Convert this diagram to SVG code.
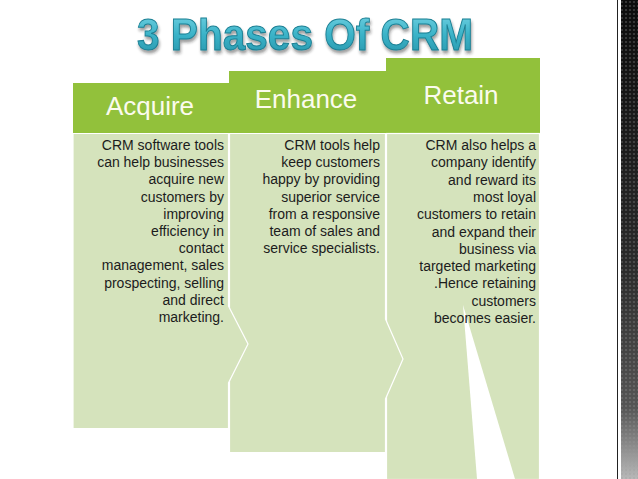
<svg xmlns="http://www.w3.org/2000/svg" width="638" height="479" viewBox="0 0 638 479">
  <defs>
    <linearGradient id="titleGrad" x1="0" y1="0" x2="0" y2="1">
      <stop offset="0" stop-color="#7ad6e6"/>
      <stop offset="0.5" stop-color="#3bb3c8"/>
      <stop offset="1" stop-color="#2592a8"/>
    </linearGradient>
    <linearGradient id="stripGrad" x1="0" y1="0" x2="0" y2="1">
      <stop offset="0" stop-color="#0c0c0c"/>
      <stop offset="0.55" stop-color="#2a2a2a"/>
      <stop offset="0.85" stop-color="#555"/>
      <stop offset="1" stop-color="#b8b8b8"/>
    </linearGradient>
    <pattern id="dots" x="0" y="0" width="4" height="4" patternUnits="userSpaceOnUse">
      <circle cx="2" cy="2" r="1.1" fill="#9a9a9a" fill-opacity="0.35"/>
    </pattern>
    <filter id="shadow" x="-10%" y="-20%" width="120%" height="160%">
      <feDropShadow dx="1" dy="3" stdDeviation="1.6" flood-color="#222" flood-opacity="0.45"/>
    </filter>
    <style>
      .head { fill: #92c13b; }
      .body { fill: #d5e3bc; stroke: #ffffff; stroke-width: 1.2; }
      .htxt { font-family: "Liberation Sans", Arial, sans-serif; font-size: 26px; fill: #fbfbee; text-anchor: middle; }
      .btxt { font-family: "Liberation Sans", Arial, sans-serif; font-size: 14px; fill: #1c1c1c; text-anchor: end; }
      .title { font-family: "Liberation Sans", Arial, sans-serif; font-size: 45px; font-weight: bold; fill: url(#titleGrad); stroke: #1b7f93; stroke-width: 1; }
    </style>
  </defs>

  <rect x="0" y="0" width="638" height="479" fill="#ffffff"/>

  <!-- right decorative strip -->
  <g id="side-strip">
    <line x1="617.5" y1="0" x2="617.5" y2="479" stroke="#222" stroke-width="1"/>
    <rect x="621" y="0" width="17" height="479" fill="url(#stripGrad)"/>
    <rect x="621" y="0" width="17" height="479" fill="url(#dots)"/>
  </g>

  <!-- title -->
  <g id="title">
    <text class="title" x="137" y="50" textLength="336" lengthAdjust="spacingAndGlyphs" filter="url(#shadow)">3 Phases Of CRM</text>
  </g>

  <!-- Retain column -->
  <g id="retain">
    <rect class="head" x="386" y="58" width="154" height="75"/>
    <rect class="body" x="386.5" y="133.5" width="153" height="346"/>
    <polygon points="463,305 477,479 515,479" fill="#ffffff"/>
    <text class="htxt" x="461" y="104">Retain</text>
    <g class="btxt">
      <text x="536" y="150">CRM also helps a</text>
      <text x="536" y="167.3">company identify</text>
      <text x="536" y="184.6">and reward its</text>
      <text x="536" y="201.9">most loyal</text>
      <text x="536" y="219.2">customers to retain</text>
      <text x="536" y="236.5">and expand their</text>
      <text x="536" y="253.8">business via</text>
      <text x="536" y="271.1">targeted marketing</text>
      <text x="536" y="288.4">.Hence retaining</text>
      <text x="536" y="305.7">customers</text>
      <text x="536" y="323">becomes easier.</text>
    </g>
  </g>

  <!-- Enhance column -->
  <g id="enhance">
    <rect class="head" x="229" y="71" width="157" height="62"/>
    <polygon class="body" points="229.5,133.5 385.5,133.5 385.5,319 403,359 385.5,399 385.5,452.5 229.5,452.5"/>
    <text class="htxt" x="306" y="108">Enhance</text>
    <g class="btxt">
      <text x="380" y="150">CRM tools help</text>
      <text x="380" y="167.2">keep customers</text>
      <text x="380" y="184.4">happy by providing</text>
      <text x="380" y="201.6">superior service</text>
      <text x="380" y="218.8">from a responsive</text>
      <text x="380" y="236">team of sales and</text>
      <text x="380" y="253.2">service specialists.</text>
    </g>
  </g>

  <!-- Acquire column -->
  <g id="acquire">
    <rect class="head" x="73" y="83" width="156" height="50"/>
    <polygon class="body" points="73,133.5 228.5,133.5 228.5,306 248,344 228.5,383 228.5,428.5 73,428.5"/>
    <text class="htxt" x="150" y="115">Acquire</text>
    <g class="btxt">
      <text x="224" y="150">CRM software tools</text>
      <text x="224" y="167.2">can help businesses</text>
      <text x="224" y="184.4">acquire new</text>
      <text x="224" y="201.6">customers by</text>
      <text x="224" y="218.8">improving</text>
      <text x="224" y="236">efficiency in</text>
      <text x="224" y="253.2">contact</text>
      <text x="224" y="270.4">management, sales</text>
      <text x="224" y="287.6">prospecting, selling</text>
      <text x="224" y="304.8">and direct</text>
      <text x="224" y="322">marketing.</text>
    </g>
  </g>
</svg>
